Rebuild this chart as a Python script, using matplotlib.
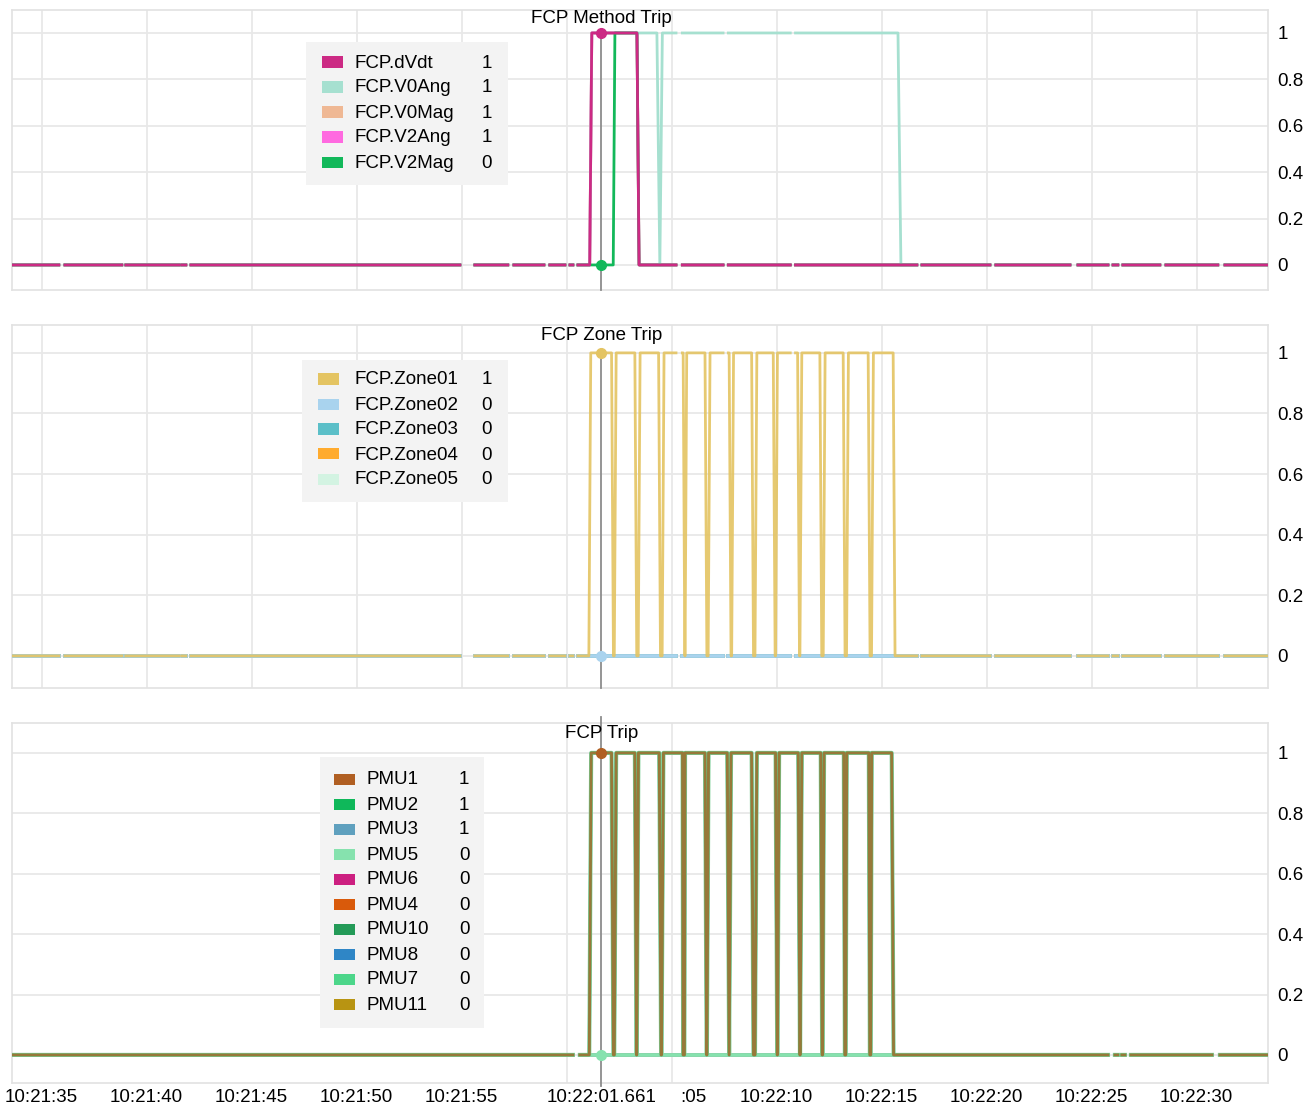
import numpy as np
import matplotlib

matplotlib.use("Agg")
import matplotlib.pyplot as plt
from matplotlib.patches import Rectangle
from matplotlib.transforms import blended_transform_factory

plt.rcParams["font.family"] = ["Liberation Sans", "DejaVu Sans"]
plt.rcParams["font.size"] = 13.5

# time axis: seconds after 10:21:35
T_FIRST, T_LAST = -1.41, 58.4
T_CURSOR = 26.661  # 10:22:01.661
EDGE = 0.09  # rise/fall duration of a sample step

GRID_SECONDS = [0, 5, 10, 15, 20, 25, 30, 35, 40, 45, 50, 55]
XTICK_SECONDS = [0, 5, 10, 15, 20, 26.661, 31.06, 35, 40, 45, 50, 55]
XTICK_LABELS = ["10:21:35", "10:21:40", "10:21:45", "10:21:50", "10:21:55", "10:22:01.661",
                ":05", "10:22:10", "10:22:15", "10:22:20", "10:22:25", "10:22:30"]
YTICKS = [0, 0.2, 0.4, 0.6, 0.8, 1]
YTICK_LABELS = ["0", "0.2", "0.4", "0.6", "0.8", "1"]

# missing-data stretches (seconds)
GAPS_FCP = [(0.82, 1.11), (3.82, 4.01), (6.54, 6.68), (6.87, 7.11), (19.92, 20.63), (22.20, 22.49),
            (23.92, 24.20), (24.92, 25.16), (25.30, 25.54), (30.21, 30.51), (32.45, 32.70),
            (35.65, 35.90), (41.68, 41.92), (45.16, 45.44), (48.97, 49.35), (50.78, 51.02),
            (51.25, 51.49), (53.25, 53.54), (56.01, 56.35)]
GAPS_PMU = [(25.30, 25.63), (50.78, 51.11), (51.25, 51.44), (51.59, 51.87), (55.73, 56.11)]

# --- FCP Method Trip ---
METHOD_NAMES = ["FCP.dVdt", "FCP.V0Ang", "FCP.V0Mag", "FCP.V2Ang", "FCP.V2Mag"]
METHOD_VALUES = [1, 1, 1, 1, 0]
METHOD_COLORS = ["#cc2a84", "#a6e0d0", "#efb894", "#ff6ae0", "#12b85a"]
DVDT_T = [T_FIRST, 26.10, 26.20, 28.35, 28.45, T_LAST]
DVDT_V = [0, 0, 1, 1, 0, 0]
V0ANG_T = [T_FIRST, 26.10, 26.20, 29.30, 29.44, 29.56, 40.78, 40.92, T_LAST]
V0ANG_V = [0, 0, 1, 1, 0, 1, 1, 0, 0]
V2MAG_T = [T_FIRST, 27.22, 27.30, 28.35, 28.45, T_LAST]
V2MAG_V = [0, 0, 1, 1, 0, 0]

# --- FCP Zone Trip ---
ZONE_NAMES = ["FCP.Zone01", "FCP.Zone02", "FCP.Zone03", "FCP.Zone04", "FCP.Zone05"]
ZONE_VALUES = [1, 0, 0, 0, 0]
ZONE_COLORS = ["#e4c462", "#a9d3ee", "#5bbfc8", "#ffab2e", "#d3f3e2"]
ZONE01_RISES = [26.06, 27.27, 28.41, 29.55, 30.63, 31.74, 32.86, 33.97, 34.95, 36.11, 37.22, 38.33, 39.52]
ZONE01_FALLS = [27.14, 28.25, 29.38, 30.55, 31.59, 32.74, 33.81, 34.84, 36.00, 37.06, 38.17, 39.36, 40.55]

# --- FCP Trip ---
PMU_NAMES = ["PMU1", "PMU2", "PMU3", "PMU5", "PMU6", "PMU4", "PMU10", "PMU8", "PMU7", "PMU11"]
PMU_VALUES = [1, 1, 1, 0, 0, 0, 0, 0, 0, 0]
PMU_COLORS = ["#b05f22", "#0fb85a", "#5fa0be", "#86e2ae", "#cc1f80", "#d95a0b", "#239a57",
              "#2f86c6", "#4cd68a", "#b89412"]
PMU_RISES = [26.08, 27.27, 28.33, 29.52, 30.55, 31.67, 32.74, 33.97, 35.03, 36.11, 37.17, 38.25, 39.44]
PMU_FALLS = [27.14, 28.25, 29.41, 30.52, 31.59, 32.65, 33.81, 34.95, 36.03, 37.10, 38.20, 39.39, 40.48]

W, H = 1314, 1109


def fx(x):
    return x / W


def fy(y):
    return 1 - y / H


def pulse_train(rises, falls):
    t, v = [T_FIRST], [0]
    for r, f in zip(rises, falls):
        t += [r, r + EDGE, f, f + EDGE]
        v += [0, 1, 1, 0]
    return t + [T_LAST], v + [0]


def cut_gaps(t, v, gaps):
    t = np.asarray(t, float)
    v = np.asarray(v, float)
    keep = np.ones(len(t), bool)
    for g0, g1 in gaps:
        keep &= ~((t > g0) & (t < g1))
    et, ev = [], []
    for g0, g1 in gaps:
        et += [g0, (g0 + g1) / 2, g1]
        ev += [np.interp(g0, t, v), np.nan, np.interp(g1, t, v)]
    tt = np.concatenate([t[keep], et])
    vv = np.concatenate([v[keep], ev])
    order = np.argsort(tt, kind="stable")
    return tt[order], vv[order]


def style_axis(ax, ylim):
    ax.set_xlim(T_FIRST, T_LAST)
    ax.set_ylim(*ylim)
    ax.set_xticks(GRID_SECONDS, minor=True)
    ax.set_xticks([])
    ax.set_yticks(YTICKS, YTICK_LABELS)
    ax.yaxis.tick_right()
    ax.tick_params(axis="y", length=0, pad=7, labelsize=13.5)
    ax.tick_params(axis="x", which="both", length=0)
    ax.grid(True, which="minor", axis="x", color="#e8e8e8", lw=1.3)
    ax.grid(True, which="major", axis="y", color="#e8e8e8", lw=1.3)
    ax.set_axisbelow(True)
    for s in ax.spines.values():
        s.set_color("#e2e2e2")
        s.set_linewidth(1.2)


def cursor(ax, top, bottom, title):
    ax.plot([T_CURSOR, T_CURSOR], [bottom, top], color="#8c8c8c", lw=1.3, zorder=4, clip_on=False)
    tr = blended_transform_factory(ax.transData, ax.transAxes)
    ax.text(T_CURSOR, 0.97, title, transform=tr, ha="center", va="center", fontsize=13.5, zorder=6)


def legend_box(box, row0, patch_x, text_x, val_x, names, values, colors):
    x0, y0, x1, y1 = box
    fig.add_artist(Rectangle((fx(x0), fy(y1)), (x1 - x0) / W, (y1 - y0) / H, transform=fig.transFigure,
                             facecolor="#f3f3f3", edgecolor="none", zorder=5))
    for i, (n, val, c) in enumerate(zip(names, values, colors)):
        y = row0 + 25 * i
        fig.add_artist(Rectangle((fx(patch_x), fy(y + 5.5)), 21 / W, 11 / H, transform=fig.transFigure,
                                 facecolor=c, edgecolor="none", zorder=6))
        fig.text(fx(text_x), fy(y + 1), n, ha="left", va="center", fontsize=13.5, zorder=7)
        fig.text(fx(val_x), fy(y + 1), str(val), ha="center", va="center", fontsize=13.5, zorder=7)


fig = plt.figure(figsize=(W / 100, H / 100), dpi=100)
ax_top = fig.add_axes([fx(12), fy(290), 1256 / W, 280 / H])
ax_mid = fig.add_axes([fx(12), fy(688), 1256 / W, 363 / H])
ax_bot = fig.add_axes([fx(12), fy(1083), 1256 / W, 360 / H])

# top panel
top_lim = (-0.108, 1.099)
style_axis(ax_top, top_lim)
for t, v, c in [(DVDT_T, DVDT_V, METHOD_COLORS[2]), (DVDT_T, DVDT_V, METHOD_COLORS[3]),
                (V0ANG_T, V0ANG_V, METHOD_COLORS[1]), (V2MAG_T, V2MAG_V, METHOD_COLORS[4]),
                (DVDT_T, DVDT_V, METHOD_COLORS[0])]:
    tt, vv = cut_gaps(t, v, GAPS_FCP)
    ax_top.plot(tt, vv, color=c, lw=2, zorder=3)
cursor(ax_top, 1.0, top_lim[0], "FCP Method Trip")
ax_top.plot([T_CURSOR], [1], "o", color=METHOD_COLORS[0], ms=7, zorder=5)
ax_top.plot([T_CURSOR], [0], "o", color=METHOD_COLORS[4], ms=7, zorder=5)

# middle panel
mid_lim = (-0.106, 1.092)
style_axis(ax_mid, mid_lim)
flat_t, flat_v = [T_FIRST, T_LAST], [0, 0]
for c in ZONE_COLORS[:0:-1]:
    tt, vv = cut_gaps(flat_t, flat_v, GAPS_FCP)
    ax_mid.plot(tt, vv, color=c, lw=2.6, zorder=3)
zt, zv = pulse_train(ZONE01_RISES, ZONE01_FALLS)
tt, vv = cut_gaps(zt, zv, GAPS_FCP)
ax_mid.plot(tt, vv, color=ZONE_COLORS[0], lw=2, alpha=0.9, zorder=3)
cursor(ax_mid, 1.0, mid_lim[0], "FCP Zone Trip")
ax_mid.plot([T_CURSOR], [1], "o", color=ZONE_COLORS[0], ms=7, zorder=5)
ax_mid.plot([T_CURSOR], [0], "o", color=ZONE_COLORS[1], ms=7, zorder=5)

# bottom panel
bot_lim = (-0.093, 1.099)
style_axis(ax_bot, bot_lim)
for c in PMU_COLORS[:2:-1]:
    tt, vv = cut_gaps(flat_t, flat_v, GAPS_PMU)
    ax_bot.plot(tt, vv, color=c, lw=2.8, zorder=3)
pt, pv = pulse_train(PMU_RISES, PMU_FALLS)
tt, vv = cut_gaps(pt, pv, GAPS_PMU)
ax_bot.plot(tt, vv, color=PMU_COLORS[2], lw=2.2, zorder=3)
ax_bot.plot(tt, vv, color="#8fd6a6", lw=3.0, zorder=3)
ax_bot.plot(tt, vv, color=PMU_COLORS[1], lw=2.2, alpha=0.5, zorder=3)
ax_bot.plot(tt, vv, color=PMU_COLORS[0], lw=2, alpha=0.75, zorder=3)
cursor(ax_bot, 1.12, bot_lim[0] - 0.01, "FCP Trip")
ax_bot.plot([T_CURSOR], [1], "o", color=PMU_COLORS[0], ms=7, zorder=5)
ax_bot.plot([T_CURSOR], [0], "o", color=PMU_COLORS[3], ms=7, zorder=5)
ax_bot.set_xticks(XTICK_SECONDS, XTICK_LABELS)
ax_bot.tick_params(axis="x", which="major", length=0, pad=4, labelsize=13.5)

legend_box((306, 42, 508, 185), 62, 322, 354, 487, METHOD_NAMES, METHOD_VALUES, METHOD_COLORS)
legend_box((302, 360, 508, 502), 379, 318, 354, 487, ZONE_NAMES, ZONE_VALUES, ZONE_COLORS)
legend_box((320, 757, 484, 1028), 779, 334, 367, 464, PMU_NAMES, PMU_VALUES, PMU_COLORS)

fig.savefig("out.png", dpi=100)
